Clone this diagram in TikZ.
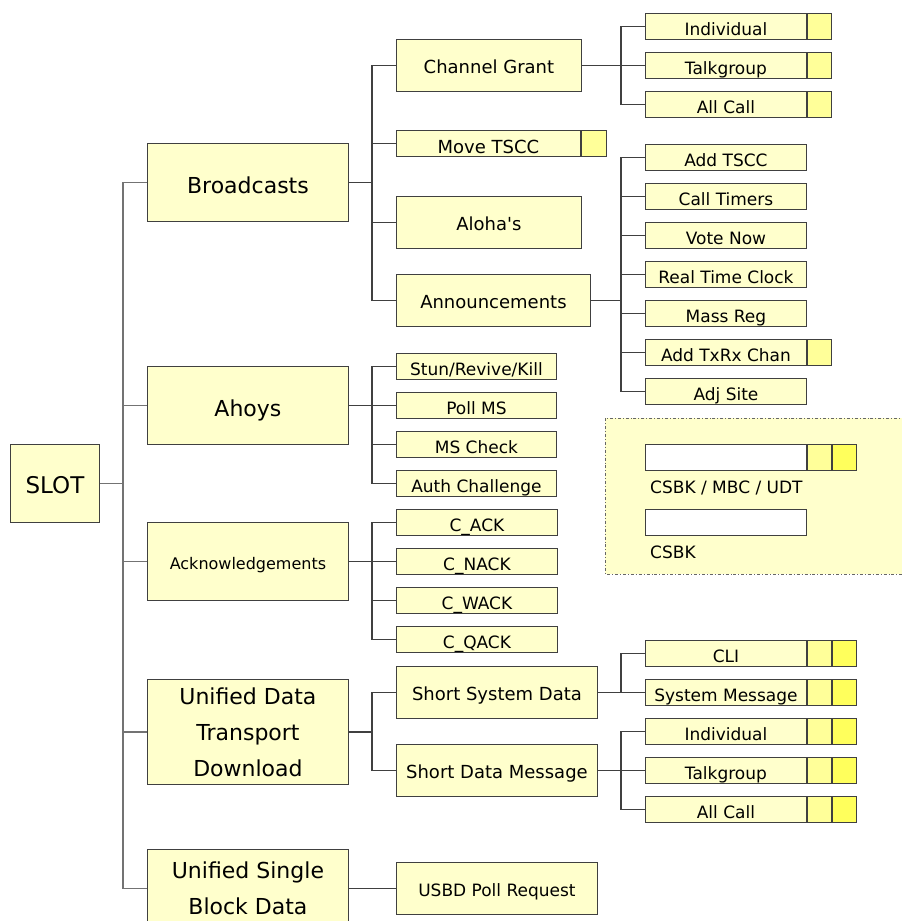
\documentclass[tikz,border=0pt]{standalone}
\usepackage{fontspec}
\setmainfont{DejaVu Sans}
\definecolor{boxf}{HTML}{FFFFCC}
\definecolor{sqa}{HTML}{FFFF99}
\definecolor{sqb}{HTML}{FFFF5C}
\definecolor{linec}{HTML}{404040}
\newcommand{\straightquote}{\XeTeXglyph\XeTeXcharglyph"0027\relax}
\begin{document}
\begin{tikzpicture}[x=1pt,y=-1pt,
  bx/.style={draw=linec, fill=boxf, line width=0.9pt, inner sep=0pt, anchor=north west},
  lone/.style={bx, minimum width=201pt, minimum height=78pt, font=\fontsize{22}{26}\selectfont, text height=21.4pt, text depth=0pt},
  ltwo/.style={bx, minimum height=52pt, font=\fontsize{18}{22}\selectfont, text height=15.4pt, text depth=0pt},
  smbox/.style={bx, minimum width=161pt, minimum height=26pt, font=\fontsize{17}{20}\selectfont, text height=18pt, text depth=0pt},
  sqone/.style={bx, fill=sqa, minimum width=24pt, minimum height=26pt},
  sqtwo/.style={bx, fill=sqb, minimum width=24pt, minimum height=26pt},
  conn/.style={draw=linec, line width=1.2pt},
  trunk/.style={draw=black!55, line width=1.2pt}]
\useasboundingbox (0,0) rectangle (902,921);
\clip (0,0) rectangle (902,921);
\coordinate (tr) at (123,0);
\coordinate (bo) at (372,0);
\coordinate (bt) at (621,0);

% legend
\path[draw=black!60, fill=boxf, line width=0.9pt, dash dot] (605,418) rectangle (915,574);
\node[bx, fill=white, minimum width=161pt, minimum height=26pt] (lga) at (645,444) {};
\node[sqone] (lgb) at (lga.north east) {};
\node[sqtwo] (lgc) at (lgb.north east) {};
\node[anchor=base west, inner sep=0pt, font=\fontsize{17}{20}\selectfont] (lgt) at (650,493) {CSBK / MBC / UDT};
\node[bx, fill=white, minimum width=161pt, minimum height=26pt] (lgd) at (645,509) {};
\node[anchor=base west, inner sep=0pt, font=\fontsize{17}{20}\selectfont] (lge) at (650,558) {CSBK};

% root
\node[bx, minimum width=89pt, minimum height=78pt, font=\fontsize{23}{27}\selectfont, text height=19.4pt, text depth=0pt] (slot) at (10,444) {SLOT};

% level 1
\node[lone] (bc) at (147,143) {Broadcasts};
\node[lone] (ah) at (147,366) {Ahoys};
\node[lone, font=\fontsize{16}{20}\selectfont, text height=16pt] (ack) at (147,522) {Acknowledgements};
\node[bx, minimum width=201pt, minimum height=105pt, font=\fontsize{22}{36}\selectfont, align=center] (udt) at (147,679) {Unified Data\\Transport\\Download};
\node[bx, minimum width=201pt, minimum height=78pt, font=\fontsize{22}{36}\selectfont, align=center] (usb) at (147,849) {Unified Single\\Block Data};

% level 2 : broadcasts
\node[ltwo, minimum width=185pt] (cg) at (396,39) {Channel Grant};
\node[smbox, minimum width=184pt, font=\fontsize{18}{22}\selectfont, text height=20pt] (mt) at (396,130) {Move TSCC};
\node[sqone, minimum width=25pt] (mtsq) at (mt.north east) {};
\node[ltwo, minimum width=185pt] (al) at (396,196) {Aloha\straightquote s};
\node[ltwo, minimum width=194pt] (an) at (396,274) {Announcements};

% level 2 : ahoys
\node[smbox, minimum width=160pt] (stun) at (396,353) {Stun/Revive/Kill};
\node[smbox, minimum width=160pt] (poll) at (396,392) {Poll MS};
\node[smbox, minimum width=160pt] (msc) at (396,431) {MS Check};
\node[smbox, minimum width=160pt] (auth) at (396,470) {Auth Challenge};

% level 2 : acks
\node[smbox] (cack) at (396,509) {C\_ACK};
\node[smbox] (cnack) at (396,548) {C\_NACK};
\node[smbox] (cwack) at (396,587) {C\_WACK};
\node[smbox] (cqack) at (396,626) {C\_QACK};

% level 2 : UDT
\node[ltwo, minimum width=201pt] (ssd) at (396,666) {Short System Data};
\node[ltwo, minimum width=201pt] (sdm) at (396,744) {Short Data Message};
\node[ltwo, minimum width=201pt, font=\fontsize{17}{20}\selectfont] (upr) at (396,862) {USBD Poll Request};

% level 3 : channel grant
\node[smbox] (cgi) at (645,13) {Individual};
\node[sqone] (cgis) at (cgi.north east) {};
\node[smbox] (cgt) at (645,52) {Talkgroup};
\node[sqone] (cgts) at (cgt.north east) {};
\node[smbox] (cga) at (645,91) {All Call};
\node[sqone] (cgas) at (cga.north east) {};

% level 3 : announcements
\node[smbox] (ana) at (645,144) {Add TSCC};
\node[smbox] (anb) at (645,183) {Call Timers};
\node[smbox] (anc) at (645,222) {Vote Now};
\node[smbox] (and) at (645,261) {Real Time Clock};
\node[smbox] (ane) at (645,300) {Mass Reg};
\node[smbox] (anf) at (645,339) {Add TxRx Chan};
\node[sqone] (anfs) at (anf.north east) {};
\node[smbox] (ang) at (645,378) {Adj Site};

% level 3 : short system data
\node[smbox] (cli) at (645,640) {CLI};
\node[sqone] (clis) at (cli.north east) {};
\node[sqtwo] (clit) at (clis.north east) {};
\node[smbox] (sym) at (645,679) {System Message};
\node[sqone] (syms) at (sym.north east) {};
\node[sqtwo] (symt) at (syms.north east) {};

% level 3 : short data message
\node[smbox] (sdi) at (645,718) {Individual};
\node[sqone] (sdis) at (sdi.north east) {};
\node[sqtwo] (sdit) at (sdis.north east) {};
\node[smbox] (sdt) at (645,757) {Talkgroup};
\node[sqone] (sdts) at (sdt.north east) {};
\node[sqtwo] (sdtt) at (sdts.north east) {};
\node[smbox] (sda) at (645,796) {All Call};
\node[sqone] (sdas) at (sda.north east) {};
\node[sqtwo] (sdat) at (sdas.north east) {};

% connectors
\foreach \c in {bc,ah,ack,udt}
  \draw[trunk] (slot.east) -- (slot.east -| tr) |- (\c.west);
\draw[trunk] (slot.east) -- (slot.east -| tr) |- (usb.west |- upr.west);
\foreach \c in {cg,mt,al,an}
  \draw[conn] (bc.east) -- (bc.east -| bo) |- (\c.west);
\foreach \c in {stun,poll,msc,auth}
  \draw[conn] (ah.east) -- (ah.east -| bo) |- (\c.west);
\foreach \c in {cack,cnack,cwack,cqack}
  \draw[conn] (ack.east) -- (ack.east -| bo) |- (\c.west);
\foreach \c in {ssd,sdm}
  \draw[conn] (udt.east) -- (udt.east -| bo) |- (\c.west);
\draw[conn] (usb.east |- upr.west) -- (upr.west);
\foreach \c in {cgi,cgt,cga}
  \draw[conn] (cg.east) -- (cg.east -| bt) |- (\c.west);
\foreach \c in {ana,anb,anc,and,ane,anf,ang}
  \draw[conn] (an.east) -- (an.east -| bt) |- (\c.west);
\foreach \c in {cli,sym}
  \draw[conn] (ssd.east) -- (ssd.east -| bt) |- (\c.west);
\foreach \c in {sdi,sdt,sda}
  \draw[conn] (sdm.east) -- (sdm.east -| bt) |- (\c.west);
\end{tikzpicture}
\end{document}
